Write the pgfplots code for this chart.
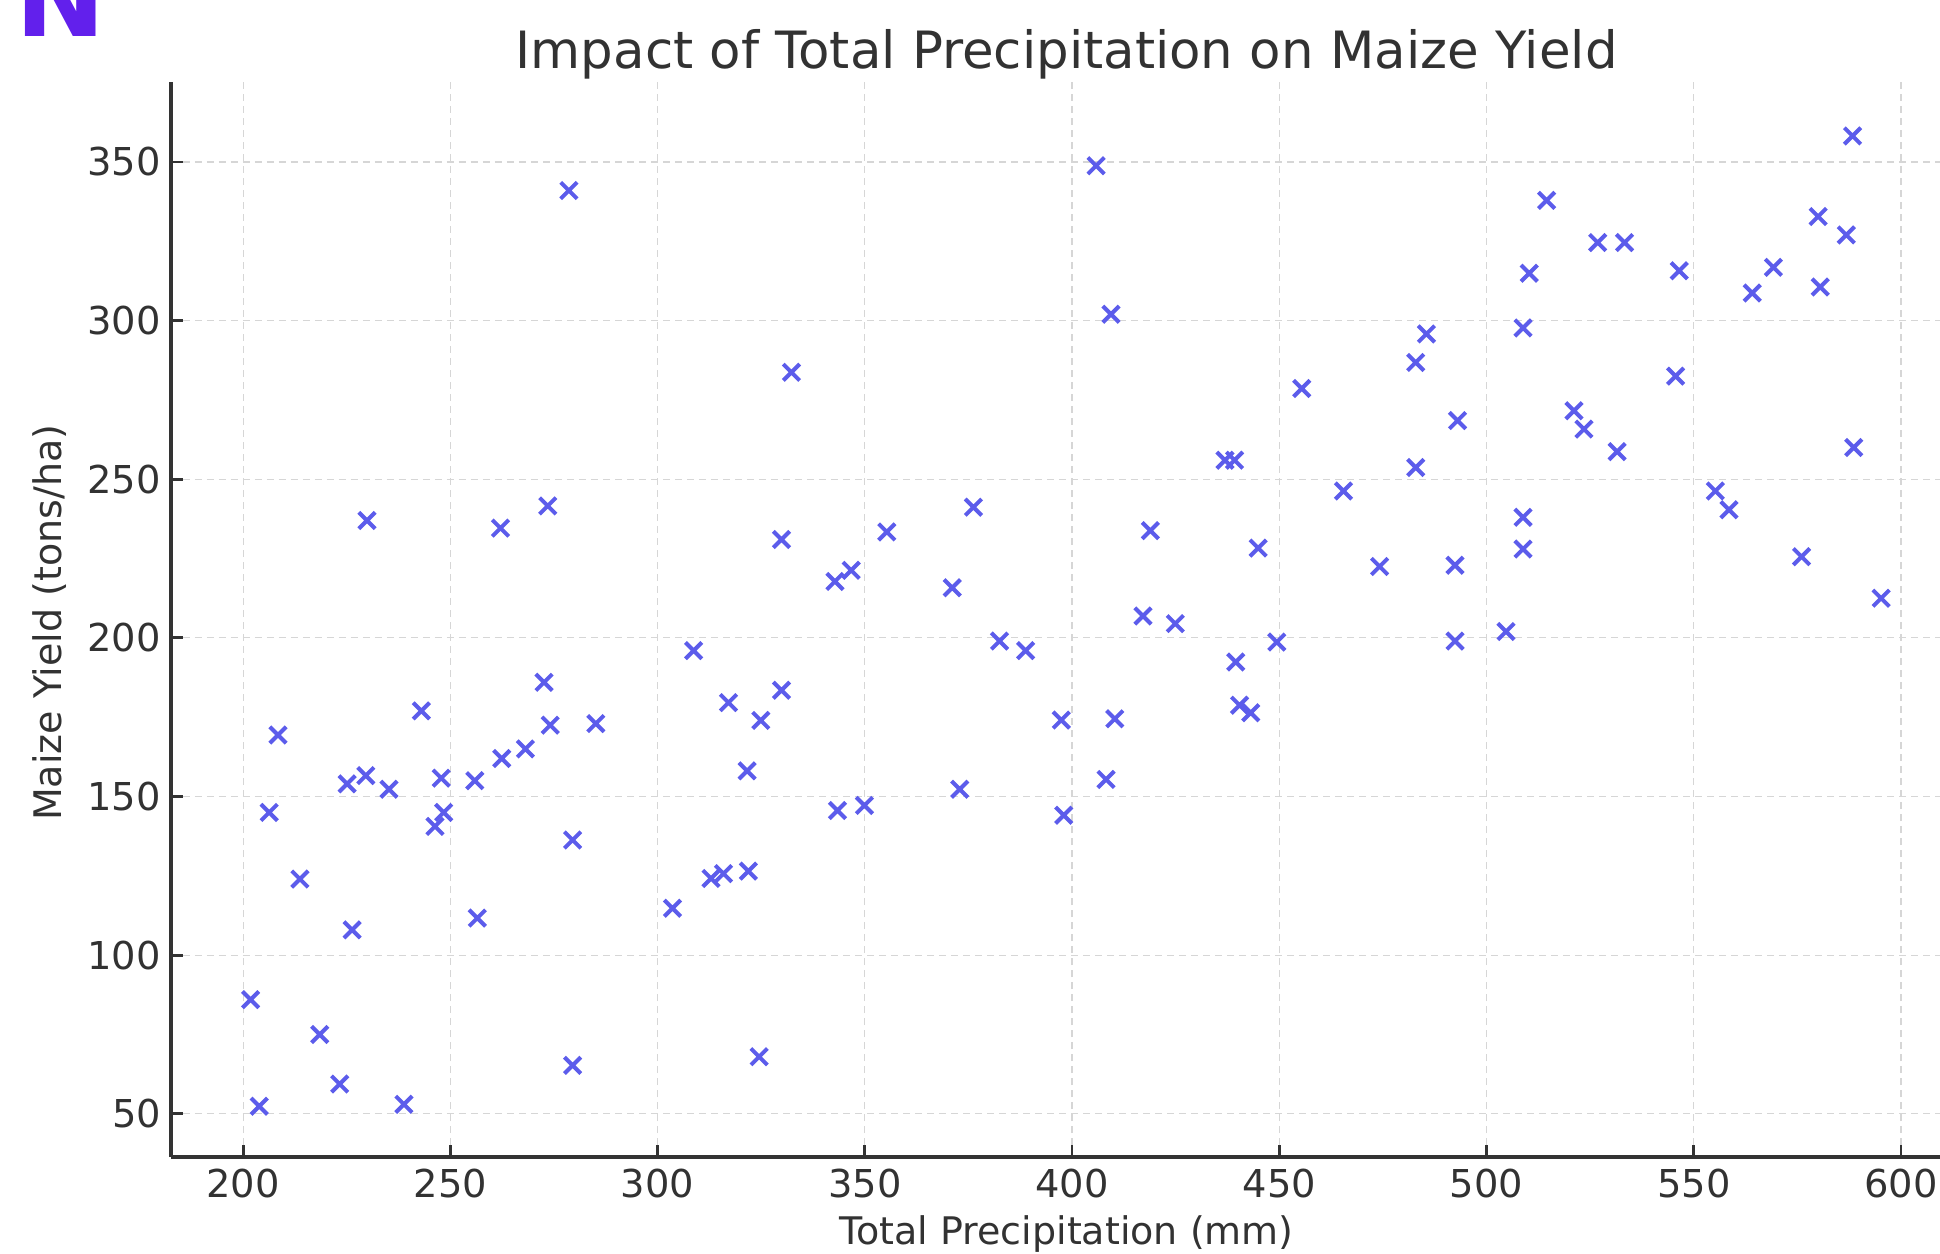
\documentclass[border=0pt]{standalone}
\usepackage{fontspec}
\setmainfont{DejaVu Sans}
\usepackage{pgfplots}
\pgfplotsset{compat=1.18}
\definecolor{markblue}{RGB}{92,92,235}
\definecolor{txt}{RGB}{50,50,50}
\definecolor{logopurple}{RGB}{98,32,236}
\begin{document}
\begin{tikzpicture}
\path[use as bounding box] (-42.75pt,-24.25pt) rectangle (442.25pt,289.25pt);
\begin{axis}[
  at={(0,0)}, anchor=south west,
  scale only axis, width=442.25pt, height=268.75pt,
  xmin=182.6, xmax=609.4, ymin=36.4, ymax=375.2,
  axis x line=bottom, axis y line=left,
  axis line style={-, line width=0.8pt, color=black!80},
  xtick={200,250,...,600}, ytick={50,100,...,350},
  tick align=inside, major tick length=3pt,
  tick style={line width=0.7pt, color=black!80},
  grid=major,
  major grid style={dash pattern=on 1.8pt off 1.2pt, line width=0.3pt, color=black!16},
  /pgf/number format/assume math mode=true,
  ticklabel style={font=\fontsize{9.6}{11}\selectfont, text=txt},
  xticklabel style={anchor=base, yshift=-10pt},
  yticklabel style={anchor=east, xshift=1pt},
  title={Impact of Total Precipitation on Maize Yield},
  title style={at={(axis description cs:0.5063,1)}, anchor=base, yshift=-2.6pt, font=\fontsize{12.85}{14}\selectfont, text=txt, inner sep=0pt},
  xlabel={Total Precipitation (mm)},
  xlabel style={at={(axis description cs:0.5063,0)}, anchor=base, yshift=-21.75pt, font=\fontsize{9.5}{11}\selectfont, text=txt, inner sep=0pt},
  ylabel={Maize Yield (tons/ha)},
  ylabel style={at={(axis description cs:0,0.497)}, anchor=center, yshift=30.3pt, font=\fontsize{9.5}{11}\selectfont, text=txt},
  clip=false,
]
\addplot[only marks, mark=x, mark size=2.9pt, color=markblue, mark options={line width=1pt}] table {
x y
201.8 86
208.4 169.4
203.9 52.4
206.3 145
213.7 124
218.5 75
223.3 59.4
226.3 108
225.1 154
229.6 156.6
229.9 237
235.2 152.3
238.8 53
243.0 177
246.3 140.6
247.8 155.8
248.4 145
255.9 155
256.5 111.7
262.1 234.6
262.4 162
268.1 165
272.6 186
273.5 241.6
274.1 172.5
278.6 341
279.5 136.3
279.5 65.3
285.1 173
303.6 114.8
308.7 196
312.9 124.2
315.9 125.7
317.1 179.6
321.9 126.5
321.6 158.1
324.9 174
324.5 68
329.9 183.5
329.9 231
332.3 283.7
342.8 217.8
346.7 221.3
343.4 145.6
349.9 147.2
355.3 233.4
371.1 215.8
376.2 241.2
372.9 152.3
382.5 199
388.8 196
397.4 174.1
398.0 144.1
405.8 348.8
409.4 302
408.2 155.4
410.3 174.5
417.1 206.9
418.9 233.8
424.9 204.5
436.9 256
439.2 256
439.5 192.4
440.4 178.8
443.1 176.4
444.9 228.3
449.4 198.7
455.4 278.6
465.5 246.3
474.2 222.5
482.9 286.8
485.5 295.8
482.9 253.7
492.4 199
492.4 222.9
493.0 268.5
504.7 202
508.8 297.7
510.3 314.9
508.8 238
508.8 228
514.5 337.9
521.1 271.6
523.5 265.8
526.8 324.6
533.3 324.6
531.5 258.7
545.6 282.5
546.5 315.7
555.2 246.3
558.5 240.4
564.1 308.7
569.2 316.8
576.0 225.6
580.0 332.8
580.5 310.6
586.8 327
588.3 358.2
588.6 260
595.2 212.5
};
\end{axis}
\node[anchor=base west, inner sep=0pt, text=logopurple, font=\fontsize{27}{27}\selectfont\bfseries] at (-39pt,280pt) {N};
\end{tikzpicture}
\end{document}
